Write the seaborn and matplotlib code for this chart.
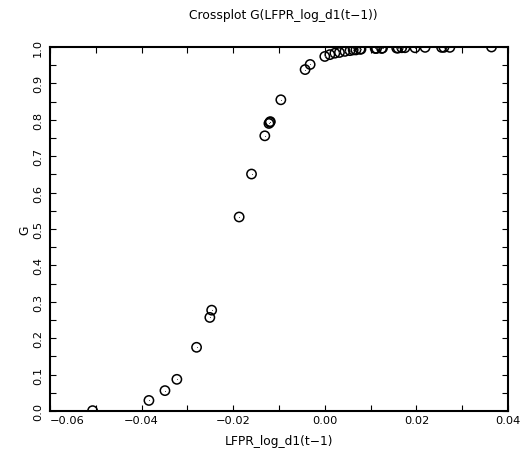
import matplotlib
matplotlib.use("Agg")
import matplotlib.pyplot as plt
import seaborn as sns
import pandas as pd
import numpy as np

lfpr_lag = [-0.0507, -0.0384, -0.0349, -0.0323, -0.0280, -0.0251, -0.0247,
            -0.0187, -0.0160, -0.0131, -0.0122, -0.0120, -0.0119, -0.0096,
            -0.0043, -0.0032, 0.0000, 0.0011, 0.0022, 0.0032, 0.0044, 0.0055,
            0.0062, 0.0068, 0.0077, 0.0079, 0.0110, 0.0113, 0.0124, 0.0126,
            0.0157, 0.0160, 0.0168, 0.0175, 0.0197, 0.0219, 0.0255, 0.0260,
            0.0273, 0.0364]
g_vals = [0.001, 0.029, 0.056, 0.087, 0.175, 0.257, 0.277,
          0.533, 0.651, 0.756, 0.790, 0.793, 0.795, 0.855,
          0.938, 0.952, 0.974, 0.979, 0.983, 0.985, 0.988, 0.990,
          0.992, 0.992, 0.994, 0.994, 0.996, 0.996, 0.996, 0.997,
          0.997, 0.997, 0.998, 0.998, 0.998, 0.999, 0.999, 0.999,
          0.999, 1.000]

x_ticks = [-0.06, -0.04, -0.02, 0.00, 0.02, 0.04]
x_tick_labels = ["\u22120.06", "\u22120.04", "\u22120.02", "0.00", "0.02", "0.04"]
y_ticks = [0.0, 0.1, 0.2, 0.3, 0.4, 0.5, 0.6, 0.7, 0.8, 0.9, 1.0]
y_tick_labels = ["0.0", "0.1", "0.2", "0.3", "0.4", "0.5", "0.6", "0.7", "0.8", "0.9", "1.0"]

df = pd.DataFrame({"LFPR_log_d1(t-1)": lfpr_lag, "G": g_vals})

sns.set_style("white")
plt.rcParams["font.family"] = ["DejaVu Sans"]
plt.rcParams["text.color"] = "black"
plt.rcParams["axes.labelcolor"] = "black"
plt.rcParams["xtick.color"] = "black"
plt.rcParams["ytick.color"] = "black"

fig = plt.figure(figsize=(5.2, 4.64), dpi=100)
ax = fig.add_axes([50 / 520, 1 - 412 / 464, 458 / 520, 364 / 464])

sns.scatterplot(data=df, x="LFPR_log_d1(t-1)", y="G", ax=ax, marker="o",
                s=45, facecolor="none", edgecolor="black", linewidth=1.1,
                legend=False)
ax.scatter(df["LFPR_log_d1(t-1)"], df["G"], s=0.6, color="#444444", linewidths=0)

ax.set_xlim(-0.06, 0.04)
ax.set_ylim(0.0, 1.0)

ax.set_xticks(x_ticks)
ax.set_xticklabels(x_tick_labels, fontsize=8.2, color="black")
ax.set_xticks(np.arange(-0.05, 0.04, 0.02), minor=True)
ax.set_yticks(y_ticks)
ax.set_yticklabels(y_tick_labels, fontsize=8.2, rotation=90, va="center", color="black")
ax.set_yticks(np.arange(0.05, 1.0, 0.1), minor=True)
ax.get_xticklabels()[0].set_ha("left")

ax.tick_params(axis="both", which="both", direction="in", length=4, width=0.8,
               top=True, right=True, bottom=True, left=True, color="black",
               labelcolor="black")
ax.tick_params(axis="x", which="major", pad=3)
ax.tick_params(axis="y", which="major", pad=5)

for sp in ax.spines.values():
    sp.set_color("black")
    sp.set_linewidth(1.5)

ax.set_xlabel("LFPR_log_d1(t\u22121)", fontsize=8.8, labelpad=6, color="black")
ax.set_ylabel("G", fontsize=8.8, labelpad=1.5, color="black")
fig.text(283 / 520, 1 - 16 / 464, "Crossplot G(LFPR_log_d1(t\u22121))",
         ha="center", va="center", fontsize=8.8, color="black")

fig.savefig("out.png", dpi=100, facecolor="white")
